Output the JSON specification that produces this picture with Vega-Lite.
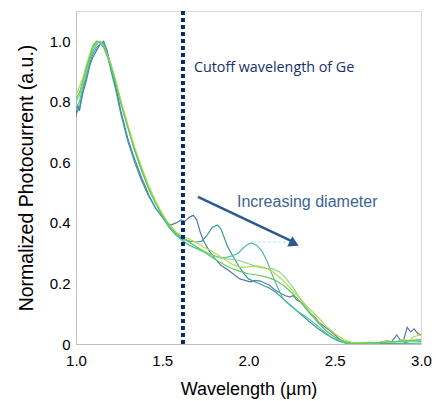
{
  "$schema": "https://vega.github.io/schema/vega-lite/v6.json",
  "width": 345,
  "height": 333,
  "autosize": {"type": "none"},
  "padding": {"left": 76, "top": 11, "right": 15, "bottom": 57},
  "background": "white",
  "config": {
    "view": {"stroke": "#d9d9d9", "strokeWidth": 1},
    "font": "Liberation Sans",
    "axis": {"grid": false, "ticks": false, "labelFlush": false, "domainColor": "#bfbfbf", "labelColor": "#000000", "titleColor": "#000000", "labelFont": "Liberation Sans", "titleFont": "Liberation Sans", "titleFontWeight": "normal", "labelFontSize": 15, "titleFontSize": 18}
  },
  "datasets": {
    "curves": [
      {"s":"d1","x":1.00,"y":0.75},{"s":"d1","x":1.01,"y":0.79},{"s":"d1","x":1.02,"y":0.77},{"s":"d1","x":1.04,"y":0.83},{"s":"d1","x":1.06,"y":0.87},{"s":"d1","x":1.08,"y":0.92},{"s":"d1","x":1.10,"y":0.95},{"s":"d1","x":1.12,"y":0.97},{"s":"d1","x":1.14,"y":0.99},{"s":"d1","x":1.16,"y":1.0},{"s":"d1","x":1.18,"y":0.97},{"s":"d1","x":1.20,"y":0.92},{"s":"d1","x":1.23,"y":0.85},{"s":"d1","x":1.26,"y":0.77},{"s":"d1","x":1.30,"y":0.68},{"s":"d1","x":1.34,"y":0.61},{"s":"d1","x":1.38,"y":0.55},{"s":"d1","x":1.42,"y":0.495},{"s":"d1","x":1.46,"y":0.45},{"s":"d1","x":1.50,"y":0.42},{"s":"d1","x":1.53,"y":0.40},{"s":"d1","x":1.55,"y":0.393},{"s":"d1","x":1.58,"y":0.40},{"s":"d1","x":1.61,"y":0.41},{"s":"d1","x":1.63,"y":0.405},{"s":"d1","x":1.66,"y":0.42},{"s":"d1","x":1.68,"y":0.425},{"s":"d1","x":1.70,"y":0.41},{"s":"d1","x":1.72,"y":0.37},{"s":"d1","x":1.74,"y":0.34},{"s":"d1","x":1.77,"y":0.31},{"s":"d1","x":1.80,"y":0.285},{"s":"d1","x":1.84,"y":0.26},{"s":"d1","x":1.88,"y":0.245},{"s":"d1","x":1.91,"y":0.232},{"s":"d1","x":1.95,"y":0.215},{"s":"d1","x":1.98,"y":0.21},{"s":"d1","x":2.01,"y":0.205},{"s":"d1","x":2.04,"y":0.21},{"s":"d1","x":2.07,"y":0.208},{"s":"d1","x":2.10,"y":0.20},{"s":"d1","x":2.12,"y":0.195},{"s":"d1","x":2.15,"y":0.18},{"s":"d1","x":2.18,"y":0.17},{"s":"d1","x":2.21,"y":0.16},{"s":"d1","x":2.24,"y":0.155},{"s":"d1","x":2.26,"y":0.16},{"s":"d1","x":2.28,"y":0.145},{"s":"d1","x":2.30,"y":0.14},{"s":"d1","x":2.33,"y":0.12},{"s":"d1","x":2.36,"y":0.10},{"s":"d1","x":2.39,"y":0.085},{"s":"d1","x":2.41,"y":0.07},{"s":"d1","x":2.44,"y":0.058},{"s":"d1","x":2.47,"y":0.045},{"s":"d1","x":2.50,"y":0.03},{"s":"d1","x":2.53,"y":0.015},{"s":"d1","x":2.56,"y":0.007},{"s":"d1","x":2.60,"y":0.003},{"s":"d1","x":2.65,"y":0.002},{"s":"d1","x":2.70,"y":0.004},{"s":"d1","x":2.75,"y":0.003},{"s":"d1","x":2.80,"y":0.01},{"s":"d1","x":2.83,"y":0.008},{"s":"d1","x":2.86,"y":0.03},{"s":"d1","x":2.88,"y":0.012},{"s":"d1","x":2.90,"y":0.015},{"s":"d1","x":2.92,"y":0.055},{"s":"d1","x":2.94,"y":0.04},{"s":"d1","x":2.96,"y":0.05},{"s":"d1","x":2.98,"y":0.035},{"s":"d1","x":3.00,"y":0.03},

      {"s":"d2","x":1.00,"y":0.76},{"s":"d2","x":1.02,"y":0.78},{"s":"d2","x":1.04,"y":0.84},{"s":"d2","x":1.06,"y":0.88},{"s":"d2","x":1.08,"y":0.93},{"s":"d2","x":1.10,"y":0.96},{"s":"d2","x":1.12,"y":0.98},{"s":"d2","x":1.14,"y":0.99},{"s":"d2","x":1.16,"y":0.995},{"s":"d2","x":1.18,"y":0.96},{"s":"d2","x":1.20,"y":0.91},{"s":"d2","x":1.23,"y":0.84},{"s":"d2","x":1.26,"y":0.76},{"s":"d2","x":1.30,"y":0.67},{"s":"d2","x":1.34,"y":0.60},{"s":"d2","x":1.38,"y":0.54},{"s":"d2","x":1.42,"y":0.49},{"s":"d2","x":1.46,"y":0.45},{"s":"d2","x":1.50,"y":0.42},{"s":"d2","x":1.54,"y":0.385},{"s":"d2","x":1.58,"y":0.36},{"s":"d2","x":1.62,"y":0.345},{"s":"d2","x":1.66,"y":0.34},{"s":"d2","x":1.70,"y":0.337},{"s":"d2","x":1.73,"y":0.34},{"s":"d2","x":1.76,"y":0.36},{"s":"d2","x":1.79,"y":0.385},{"s":"d2","x":1.82,"y":0.393},{"s":"d2","x":1.84,"y":0.38},{"s":"d2","x":1.86,"y":0.35},{"s":"d2","x":1.88,"y":0.32},{"s":"d2","x":1.91,"y":0.29},{"s":"d2","x":1.94,"y":0.26},{"s":"d2","x":1.97,"y":0.235},{"s":"d2","x":2.00,"y":0.215},{"s":"d2","x":2.04,"y":0.205},{"s":"d2","x":2.08,"y":0.195},{"s":"d2","x":2.12,"y":0.185},{"s":"d2","x":2.16,"y":0.17},{"s":"d2","x":2.20,"y":0.15},{"s":"d2","x":2.25,"y":0.125},{"s":"d2","x":2.30,"y":0.10},{"s":"d2","x":2.35,"y":0.075},{"s":"d2","x":2.40,"y":0.052},{"s":"d2","x":2.45,"y":0.032},{"s":"d2","x":2.50,"y":0.016},{"s":"d2","x":2.55,"y":0.006},{"s":"d2","x":2.60,"y":0.001},{"s":"d2","x":2.70,"y":0.0},{"s":"d2","x":2.80,"y":0.001},{"s":"d2","x":2.90,"y":0.003},{"s":"d2","x":2.95,"y":0.012},{"s":"d2","x":3.00,"y":0.008},

      {"s":"d3","x":1.00,"y":0.78},{"s":"d3","x":1.02,"y":0.80},{"s":"d3","x":1.04,"y":0.85},{"s":"d3","x":1.06,"y":0.89},{"s":"d3","x":1.08,"y":0.94},{"s":"d3","x":1.10,"y":0.97},{"s":"d3","x":1.12,"y":0.99},{"s":"d3","x":1.14,"y":1.0},{"s":"d3","x":1.16,"y":0.99},{"s":"d3","x":1.18,"y":0.96},{"s":"d3","x":1.20,"y":0.93},{"s":"d3","x":1.23,"y":0.87},{"s":"d3","x":1.26,"y":0.80},{"s":"d3","x":1.30,"y":0.72},{"s":"d3","x":1.34,"y":0.64},{"s":"d3","x":1.38,"y":0.575},{"s":"d3","x":1.42,"y":0.515},{"s":"d3","x":1.46,"y":0.47},{"s":"d3","x":1.50,"y":0.425},{"s":"d3","x":1.54,"y":0.385},{"s":"d3","x":1.58,"y":0.36},{"s":"d3","x":1.62,"y":0.34},{"s":"d3","x":1.66,"y":0.325},{"s":"d3","x":1.70,"y":0.315},{"s":"d3","x":1.74,"y":0.305},{"s":"d3","x":1.78,"y":0.295},{"s":"d3","x":1.82,"y":0.288},{"s":"d3","x":1.86,"y":0.285},{"s":"d3","x":1.90,"y":0.29},{"s":"d3","x":1.94,"y":0.30},{"s":"d3","x":1.97,"y":0.318},{"s":"d3","x":2.00,"y":0.33},{"s":"d3","x":2.02,"y":0.334},{"s":"d3","x":2.05,"y":0.325},{"s":"d3","x":2.08,"y":0.305},{"s":"d3","x":2.11,"y":0.27},{"s":"d3","x":2.14,"y":0.225},{"s":"d3","x":2.17,"y":0.185},{"s":"d3","x":2.20,"y":0.15},{"s":"d3","x":2.24,"y":0.128},{"s":"d3","x":2.28,"y":0.11},{"s":"d3","x":2.32,"y":0.095},{"s":"d3","x":2.36,"y":0.078},{"s":"d3","x":2.40,"y":0.06},{"s":"d3","x":2.44,"y":0.04},{"s":"d3","x":2.48,"y":0.022},{"s":"d3","x":2.52,"y":0.01},{"s":"d3","x":2.56,"y":0.003},{"s":"d3","x":2.60,"y":0.0},{"s":"d3","x":2.80,"y":0.0},{"s":"d3","x":3.00,"y":0.003},

      {"s":"d4","x":1.00,"y":0.80},{"s":"d4","x":1.02,"y":0.82},{"s":"d4","x":1.04,"y":0.86},{"s":"d4","x":1.06,"y":0.90},{"s":"d4","x":1.08,"y":0.95},{"s":"d4","x":1.10,"y":0.98},{"s":"d4","x":1.12,"y":0.995},{"s":"d4","x":1.14,"y":1.0},{"s":"d4","x":1.16,"y":0.985},{"s":"d4","x":1.18,"y":0.955},{"s":"d4","x":1.20,"y":0.925},{"s":"d4","x":1.23,"y":0.865},{"s":"d4","x":1.26,"y":0.80},{"s":"d4","x":1.30,"y":0.72},{"s":"d4","x":1.34,"y":0.645},{"s":"d4","x":1.38,"y":0.58},{"s":"d4","x":1.42,"y":0.52},{"s":"d4","x":1.46,"y":0.47},{"s":"d4","x":1.50,"y":0.43},{"s":"d4","x":1.54,"y":0.39},{"s":"d4","x":1.58,"y":0.365},{"s":"d4","x":1.62,"y":0.35},{"s":"d4","x":1.66,"y":0.335},{"s":"d4","x":1.70,"y":0.32},{"s":"d4","x":1.75,"y":0.305},{"s":"d4","x":1.80,"y":0.29},{"s":"d4","x":1.85,"y":0.283},{"s":"d4","x":1.90,"y":0.28},{"s":"d4","x":1.95,"y":0.275},{"s":"d4","x":2.00,"y":0.265},{"s":"d4","x":2.05,"y":0.255},{"s":"d4","x":2.10,"y":0.25},{"s":"d4","x":2.14,"y":0.248},{"s":"d4","x":2.18,"y":0.238},{"s":"d4","x":2.22,"y":0.215},{"s":"d4","x":2.26,"y":0.185},{"s":"d4","x":2.30,"y":0.15},{"s":"d4","x":2.35,"y":0.11},{"s":"d4","x":2.40,"y":0.075},{"s":"d4","x":2.45,"y":0.045},{"s":"d4","x":2.50,"y":0.022},{"s":"d4","x":2.55,"y":0.008},{"s":"d4","x":2.60,"y":0.002},{"s":"d4","x":2.70,"y":0.003},{"s":"d4","x":2.80,"y":0.006},{"s":"d4","x":2.90,"y":0.008},{"s":"d4","x":3.00,"y":0.01},

      {"s":"d5","x":1.00,"y":0.82},{"s":"d5","x":1.02,"y":0.85},{"s":"d5","x":1.04,"y":0.88},{"s":"d5","x":1.06,"y":0.92},{"s":"d5","x":1.08,"y":0.96},{"s":"d5","x":1.10,"y":0.99},{"s":"d5","x":1.12,"y":1.0},{"s":"d5","x":1.14,"y":0.995},{"s":"d5","x":1.16,"y":0.98},{"s":"d5","x":1.18,"y":0.955},{"s":"d5","x":1.20,"y":0.925},{"s":"d5","x":1.23,"y":0.87},{"s":"d5","x":1.26,"y":0.805},{"s":"d5","x":1.30,"y":0.725},{"s":"d5","x":1.34,"y":0.65},{"s":"d5","x":1.38,"y":0.585},{"s":"d5","x":1.42,"y":0.525},{"s":"d5","x":1.46,"y":0.475},{"s":"d5","x":1.50,"y":0.43},{"s":"d5","x":1.54,"y":0.395},{"s":"d5","x":1.58,"y":0.37},{"s":"d5","x":1.62,"y":0.355},{"s":"d5","x":1.66,"y":0.345},{"s":"d5","x":1.70,"y":0.335},{"s":"d5","x":1.74,"y":0.32},{"s":"d5","x":1.78,"y":0.31},{"s":"d5","x":1.82,"y":0.295},{"s":"d5","x":1.86,"y":0.28},{"s":"d5","x":1.90,"y":0.265},{"s":"d5","x":1.95,"y":0.252},{"s":"d5","x":2.00,"y":0.255},{"s":"d5","x":2.05,"y":0.258},{"s":"d5","x":2.10,"y":0.252},{"s":"d5","x":2.15,"y":0.235},{"s":"d5","x":2.20,"y":0.21},{"s":"d5","x":2.25,"y":0.18},{"s":"d5","x":2.30,"y":0.15},{"s":"d5","x":2.35,"y":0.118},{"s":"d5","x":2.40,"y":0.09},{"s":"d5","x":2.45,"y":0.06},{"s":"d5","x":2.50,"y":0.035},{"s":"d5","x":2.55,"y":0.015},{"s":"d5","x":2.60,"y":0.005},{"s":"d5","x":2.65,"y":0.003},{"s":"d5","x":2.70,"y":0.006},{"s":"d5","x":2.75,"y":0.004},{"s":"d5","x":2.80,"y":0.01},{"s":"d5","x":2.85,"y":0.006},{"s":"d5","x":2.90,"y":0.015},{"s":"d5","x":2.93,"y":0.01},{"s":"d5","x":2.96,"y":0.025},{"s":"d5","x":3.00,"y":0.03},

      {"s":"d6","x":1.00,"y":0.81},{"s":"d6","x":1.02,"y":0.83},{"s":"d6","x":1.04,"y":0.87},{"s":"d6","x":1.06,"y":0.91},{"s":"d6","x":1.08,"y":0.95},{"s":"d6","x":1.10,"y":0.985},{"s":"d6","x":1.12,"y":1.0},{"s":"d6","x":1.14,"y":0.995},{"s":"d6","x":1.16,"y":0.98},{"s":"d6","x":1.18,"y":0.95},{"s":"d6","x":1.20,"y":0.92},{"s":"d6","x":1.23,"y":0.86},{"s":"d6","x":1.26,"y":0.795},{"s":"d6","x":1.30,"y":0.715},{"s":"d6","x":1.34,"y":0.64},{"s":"d6","x":1.38,"y":0.575},{"s":"d6","x":1.42,"y":0.515},{"s":"d6","x":1.46,"y":0.465},{"s":"d6","x":1.50,"y":0.425},{"s":"d6","x":1.54,"y":0.39},{"s":"d6","x":1.58,"y":0.365},{"s":"d6","x":1.62,"y":0.352},{"s":"d6","x":1.66,"y":0.335},{"s":"d6","x":1.70,"y":0.32},{"s":"d6","x":1.74,"y":0.305},{"s":"d6","x":1.78,"y":0.29},{"s":"d6","x":1.82,"y":0.275},{"s":"d6","x":1.86,"y":0.262},{"s":"d6","x":1.90,"y":0.25},{"s":"d6","x":1.95,"y":0.24},{"s":"d6","x":2.00,"y":0.232},{"s":"d6","x":2.05,"y":0.228},{"s":"d6","x":2.10,"y":0.222},{"s":"d6","x":2.15,"y":0.212},{"s":"d6","x":2.20,"y":0.195},{"s":"d6","x":2.25,"y":0.17},{"s":"d6","x":2.30,"y":0.14},{"s":"d6","x":2.35,"y":0.105},{"s":"d6","x":2.40,"y":0.072},{"s":"d6","x":2.45,"y":0.043},{"s":"d6","x":2.50,"y":0.022},{"s":"d6","x":2.55,"y":0.008},{"s":"d6","x":2.60,"y":0.002},{"s":"d6","x":2.70,"y":0.004},{"s":"d6","x":2.80,"y":0.006},{"s":"d6","x":2.90,"y":0.01},{"s":"d6","x":2.95,"y":0.012},{"s":"d6","x":3.00,"y":0.015}
    ]
  },
  "layer": [
    {
      "data": {"name": "curves"},
      "mark": {"type": "line", "strokeWidth": 1.2, "clip": true},
      "encoding": {
        "x": {"field": "x", "type": "quantitative", "scale": {"domain": [1, 3], "nice": false},
              "axis": {"values": [1, 1.5, 2, 2.5, 3], "format": ".1f", "labelPadding": 9, "title": "Wavelength (µm)", "titlePadding": 12}},
        "y": {"field": "y", "type": "quantitative", "scale": {"domain": [0, 1.1], "nice": false},
              "axis": {"values": [0, 0.2, 0.4, 0.6, 0.8, 1.0], "labelExpr": "datum.value == 0 ? '0' : format(datum.value, '.1f')", "labelPadding": 6, "title": "Normalized Photocurrent (a.u.)", "titleFontSize": 19.5, "titlePadding": 13}},
        "color": {"field": "s", "type": "nominal", "legend": null,
                  "scale": {"domain": ["d1","d2","d3","d4","d5","d6"], "range": ["#5878a6", "#3a9a9e", "#4fbea0", "#85d890", "#b4df4a", "#5ec962"]}},
        "order": {"field": "x", "type": "quantitative"}
      }
    },
    {
      "data": {"values": [{"x": 2.026, "y": 0.337, "x2": 2.24}]},
      "mark": {"type": "rule", "color": "#b5e6e0", "strokeWidth": 1, "strokeDash": [3, 2]},
      "encoding": {
        "x": {"field": "x", "type": "quantitative"},
        "y": {"field": "y", "type": "quantitative"},
        "x2": {"field": "x2"}
      }
    },
    {
      "data": {"values": [{"x": 1.62}]},
      "mark": {"type": "rule", "color": "#0b2a6b", "strokeWidth": 4, "strokeDash": [4, 3]},
      "encoding": {"x": {"field": "x", "type": "quantitative"}}
    },
    {
      "data": {"values": [{"x": 1.707, "y": 0.486, "x2": 2.25, "y2": 0.34}]},
      "mark": {"type": "rule", "color": "#2c5a8e", "strokeWidth": 2.5},
      "encoding": {
        "x": {"field": "x", "type": "quantitative"},
        "y": {"field": "y", "type": "quantitative"},
        "x2": {"field": "x2"},
        "y2": {"field": "y2"}
      }
    },
    {
      "data": {"values": [{"x": 2.265, "y": 0.332}]},
      "mark": {"type": "point", "shape": "triangle-right", "filled": true, "color": "#2c5a8e", "opacity": 1, "size": 130, "angle": 26},
      "encoding": {
        "x": {"field": "x", "type": "quantitative"},
        "y": {"field": "y", "type": "quantitative"}
      }
    },
    {
      "data": {"values": [{"x": 1.684, "y": 0.912, "t": "Cutoff wavelength of Ge"}]},
      "mark": {"type": "text", "font": "Open Sans", "fontSize": 14.3, "color": "#16306a", "align": "left", "baseline": "middle"},
      "encoding": {
        "x": {"field": "x", "type": "quantitative"},
        "y": {"field": "y", "type": "quantitative"},
        "text": {"field": "t"}
      }
    },
    {
      "data": {"values": [{"x": 1.933, "y": 0.469, "t": "Increasing diameter"}]},
      "mark": {"type": "text", "font": "Liberation Sans", "fontSize": 16, "color": "#3b6496", "align": "left", "baseline": "middle"},
      "encoding": {
        "x": {"field": "x", "type": "quantitative"},
        "y": {"field": "y", "type": "quantitative"},
        "text": {"field": "t"}
      }
    }
  ]
}
